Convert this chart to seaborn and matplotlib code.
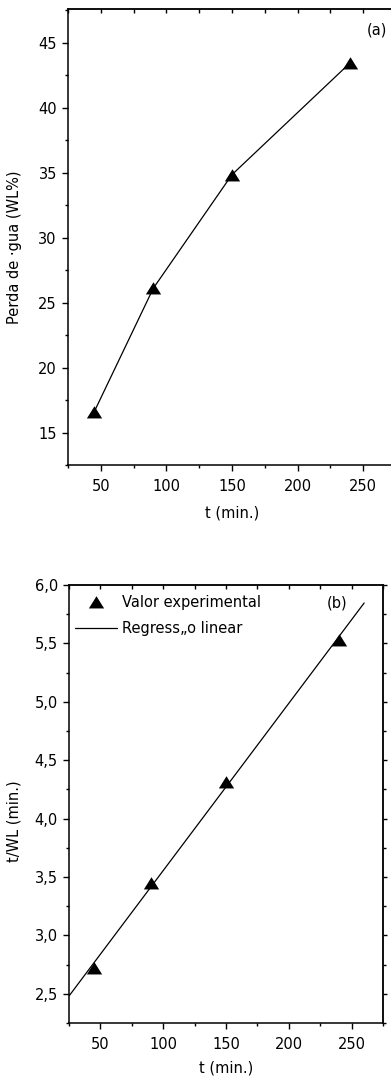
import numpy as np
import pandas as pd
import matplotlib
matplotlib.use("Agg")
import matplotlib.pyplot as plt
from matplotlib.ticker import MultipleLocator, FuncFormatter
from matplotlib.lines import Line2D
import seaborn as sns

# ---- data ----
t_min = [45, 90, 150, 240]
wl_pct = [16.6, 26.1, 34.85, 43.45]
t_over_wl = [2.72, 3.45, 4.31, 5.53]
reg_x_range = [25, 260]

label_a = "(a)"
label_b = "(b)"
xlabel = "t (min.)"
ylabel_a = "Perda de ·gua (WL%)"
ylabel_b = "t/WL (min.)"
legend_labels = ["Valor experimental", "Regress„o linear"]

sns.set_theme(style="ticks")
plt.rcParams["font.family"] = ["DejaVu Sans"]
FS = 10.5
plt.rcParams["font.size"] = FS
plt.rcParams["axes.linewidth"] = 1.1
plt.rcParams["text.color"] = "black"
plt.rcParams["axes.labelcolor"] = "black"
plt.rcParams["xtick.color"] = "black"
plt.rcParams["ytick.color"] = "black"

W, H = 391, 1076
fig = plt.figure(figsize=(W / 100, H / 100), dpi=100)

tri = [(-1, -0.78), (1, -0.78), (0, 0.82)]


def box(l, t, r, b):
    return [l / W, 1 - b / H, (r - l) / W, (b - t) / H]


def style_axes(ax, xmaj, xmin, ymaj, ymin, comma=False):
    ax.xaxis.set_major_locator(MultipleLocator(xmaj))
    ax.xaxis.set_minor_locator(MultipleLocator(xmin))
    ax.yaxis.set_major_locator(MultipleLocator(ymaj))
    ax.yaxis.set_minor_locator(MultipleLocator(ymin))
    if comma:
        ax.yaxis.set_major_formatter(FuncFormatter(lambda v, p: f"{v:.1f}".replace(".", ",")))
    ax.tick_params(which="major", direction="out", length=4, width=1.0,
                   labelsize=FS, colors="black", pad=4)
    ax.tick_params(axis="x", which="major", pad=6)
    ax.tick_params(which="minor", direction="out", length=2.5, width=1.0)
    for s in ax.spines.values():
        s.set_visible(True)
        s.set_color("black")
        s.set_linewidth(1.1)
    ax.set_facecolor("white")
    # mirrored ticks
    top = ax.secondary_xaxis("top")
    top.xaxis.set_major_locator(MultipleLocator(xmaj))
    top.xaxis.set_minor_locator(MultipleLocator(xmin))
    top.tick_params(which="both", direction="in", length=3, width=1.0, labeltop=False)
    top.spines["top"].set_linewidth(1.1)
    right = ax.secondary_yaxis("right")
    right.yaxis.set_major_locator(MultipleLocator(ymaj))
    right.yaxis.set_minor_locator(MultipleLocator(ymin))
    right.tick_params(which="major", direction="out", length=3, width=1.0, labelright=False)
    right.tick_params(which="minor", direction="out", length=2, width=1.0, labelright=False)


# ---- panel (a) ----
ax1 = fig.add_axes(box(68, 9, 396, 465))
dfa = pd.DataFrame({"t": t_min, "wl": wl_pct})
sns.lineplot(data=dfa, x="t", y="wl", ax=ax1, color="black", linewidth=0.9,
             marker=tri, markersize=11, markeredgewidth=0, markerfacecolor="black")
ax1.set_xlim(25, 275)
ax1.set_ylim(12.5, 47.6)
style_axes(ax1, 50, 25, 5, 2.5)
ax1.set_xlabel(xlabel, fontsize=FS, labelpad=8)
ax1.set_ylabel(ylabel_a, fontsize=FS)
ax1.yaxis.set_label_coords(-0.14, 0.478)
fig.text(377 / W, 1 - 30 / H, label_a, fontsize=FS, ha="center", va="center")

# ---- panel (b) ----
ax2 = fig.add_axes(box(69, 585, 383, 1023))
dfb = pd.DataFrame({"t": t_min, "y": t_over_wl})
sns.scatterplot(data=dfb, x="t", y="y", ax=ax2, color="black", marker=tri,
                s=11 ** 2, linewidth=0, zorder=3)
slope, intercept = np.polyfit(t_min, t_over_wl, 1)
xr = np.array(reg_x_range, dtype=float)
dfr = pd.DataFrame({"t": xr, "y": slope * xr + intercept})
sns.lineplot(data=dfr, x="t", y="y", ax=ax2, color="black", linewidth=0.9)
ax2.set_xlim(25, 275)
ax2.set_ylim(2.25, 6.0)
style_axes(ax2, 50, 25, 0.5, 0.25, comma=True)
ax2.set_xlabel(xlabel, fontsize=FS, labelpad=6)
ax2.set_ylabel(ylabel_b, fontsize=FS)
ax2.yaxis.set_label_coords(-0.15, 0.461)
fig.text(337 / W, 1 - 603 / H, label_b, fontsize=FS, ha="center", va="center")

handles = [
    Line2D([], [], linestyle="none", marker=tri, markersize=11, color="black",
           markeredgewidth=0),
    Line2D([], [], color="black", linewidth=0.9),
]
ax2.legend(handles, legend_labels, loc="upper left", bbox_to_anchor=(0.0, 0.99),
           frameon=False, fontsize=FS, handlelength=2.9, handletextpad=0.3,
           labelspacing=0.75, borderaxespad=0.2, borderpad=0.2, labelcolor="black")

fig.savefig("out.png", dpi=100)
